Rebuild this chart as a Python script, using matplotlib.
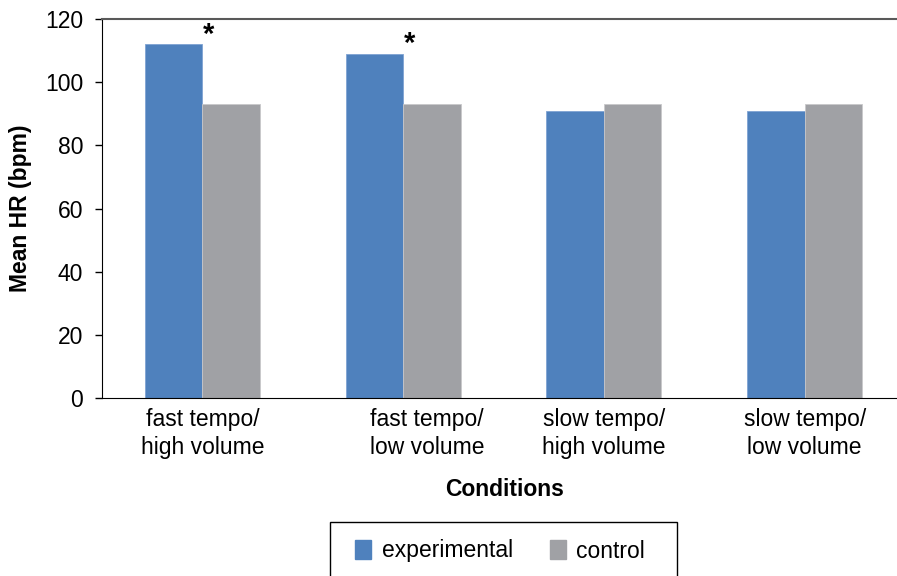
import matplotlib
matplotlib.use("Agg")
import matplotlib.pyplot as plt
import matplotlib.transforms as mtransforms
import numpy as np
from matplotlib.patches import Patch, Rectangle

categories = ["fast tempo/\nhigh volume", "fast tempo/\nlow volume",
              "slow tempo/\nhigh volume", "slow tempo/\nlow volume"]
experimental = [112, 109, 91, 91]
control = [93, 93, 93, 93]
significant = [True, True, False, False]
yticks = [0, 20, 40, 60, 80, 100, 120]

plt.rcParams['font.family'] = ['Liberation Sans', 'DejaVu Sans']
FS = 16.5

blue = "#4F81BD"
grey = "#A0A1A5"

fig = plt.figure(figsize=(8.97, 5.76), dpi=100)
W, H = 897, 576
left, right, top, bottom = 102, 905, 19, 398
ax = fig.add_axes([left / W, 1 - bottom / H, (right - left) / W, (bottom - top) / H])

x = np.arange(len(categories))
bw = 0.286
ax.bar(x - bw / 2, experimental, bw, color=blue, edgecolor="#7FA3D3", linewidth=0.6)
ax.bar(x + bw / 2, control, bw, color=grey, edgecolor="#C8C8CA", linewidth=0.6)

for i, s in enumerate(significant):
    if s:
        ax.text(x[i] + 0.03, experimental[i] + 3.0, "*", ha="center", va="center",
                fontsize=21, fontweight="bold")

ax.set_xlim(-0.5, len(categories) - 0.5)
ax.set_ylim(0, 120)
ax.set_yticks(yticks)
ax.set_yticklabels([str(t) for t in yticks], fontsize=FS)
ax.set_xticks(x)
ax.set_xticklabels(categories, fontsize=FS, linespacing=1.3)
ax.tick_params(axis="x", length=0, pad=7)
ax.tick_params(axis="y", length=5, width=1, direction="out", pad=8.5)

# the second category label is drawn offset to the right in the original
lbl = ax.get_xticklabels()[1]
lbl.set_transform(lbl.get_transform() + mtransforms.ScaledTranslation(24 / 100, 0, fig.dpi_scale_trans))

ax.spines["right"].set_visible(False)
ax.spines["top"].set_color("#595959")
ax.spines["top"].set_linewidth(1.5)
ax.spines["left"].set_color("black")
ax.spines["bottom"].set_color("black")

ax.set_ylabel("Mean HR (bpm)", fontsize=FS, fontweight="bold")
ax.yaxis.set_label_coords((32 - left) / (right - left), 0.5)
fig.text(505 / W, 1 - 489 / H, "Conditions", ha="center", va="center",
         fontsize=FS, fontweight="bold")

handles = [Patch(facecolor=blue, edgecolor=blue, label="experimental"),
           Patch(facecolor=grey, edgecolor=grey, label="control")]
leg = fig.legend(handles=handles, loc="center", ncol=2,
                 bbox_to_anchor=(500 / W, 1 - 551 / H), frameon=False,
                 fontsize=FS, handlelength=0.72, handleheight=0.85,
                 handletextpad=0.45, columnspacing=1.6, borderpad=0,
                 borderaxespad=0)
fig.patches.append(Rectangle((330 / W, 1 - 590 / H), 347 / W, 68 / H,
                             transform=fig.transFigure, fill=False,
                             edgecolor="black", linewidth=1.0))

fig.savefig("out.png", dpi=100)
